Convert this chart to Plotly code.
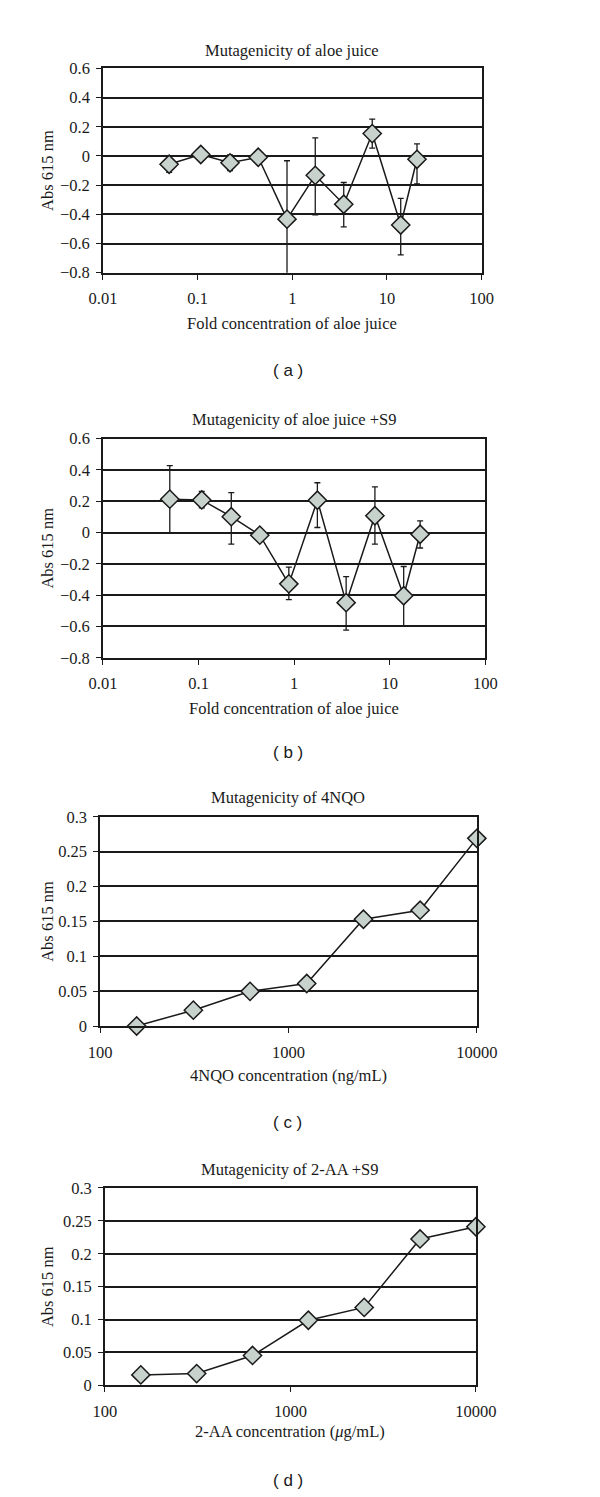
import plotly.graph_objects as go

# ---------------- data ----------------
aloe_conc = [0.05, 0.108, 0.22, 0.437, 0.88, 1.75, 3.5, 7.0, 14.0, 20.8]

a_abs = [-0.057, 0.01, -0.047, -0.009, -0.433, -0.133, -0.331, 0.153, -0.473, -0.023]
a_err_plus = [0.056, 0.02, 0.054, 0.01, 0.40, 0.257, 0.149, 0.099, 0.182, 0.106]
a_err_minus = [0.056, 0.02, 0.054, 0.01, 0.40, 0.271, 0.155, 0.099, 0.205, 0.169]

b_abs = [0.213, 0.208, 0.101, -0.017, -0.328, 0.206, -0.448, 0.107, -0.404, -0.011]
b_err_plus = [0.214, 0.055, 0.154, 0.01, 0.107, 0.112, 0.166, 0.184, 0.187, 0.085]
b_err_minus = [0.217, 0.05, 0.175, 0.01, 0.101, 0.174, 0.175, 0.181, 0.196, 0.088]

nqo_conc = [156.25, 312.5, 625, 1250, 2500, 5000, 10000]
nqo_abs = [0.0, 0.0227, 0.0497, 0.061, 0.153, 0.166, 0.269]

aa_conc = [156.25, 312.5, 625, 1250, 2500, 5000, 10000]
aa_abs = [0.016, 0.018, 0.0455, 0.099, 0.1185, 0.2225, 0.241]

titles = ["Mutagenicity of aloe juice", "Mutagenicity of aloe juice +S9",
          "Mutagenicity of 4NQO", "Mutagenicity of 2-AA +S9"]
x_titles = ["Fold concentration of aloe juice", "Fold concentration of aloe juice",
            "4NQO concentration (ng/mL)", "2-AA concentration (<i>μ</i>g/mL)"]
panel_labels = ["( a )", "( b )", "( c )", "( d )"]
y_title = "Abs 615 nm"

aloe_xticks = [0.01, 0.1, 1, 10, 100]
aloe_xticktext = ["0.01", "0.1", "1", "10", "100"]
conc_xticks = [100, 1000, 10000]
conc_xticktext = ["100", "1000", "10000"]
aloe_yticks = [-0.8, -0.6, -0.4, -0.2, 0, 0.2, 0.4, 0.6]
aloe_yticktext = ["−0.8", "−0.6", "−0.4", "−0.2", "0", "0.2", "0.4", "0.6"]
conc_yticks = [0, 0.05, 0.1, 0.15, 0.2, 0.25, 0.3]
conc_yticktext = ["0", "0.05", "0.1", "0.15", "0.2", "0.25", "0.3"]

# ---------------- layout geometry (pixels) ----------------
W, H = 600, 1497
panels = [
    dict(x0=86, x1=488, top=52, bottom=259, title_y=34, xt_y=310, lab_y=358),
    dict(x0=86, x1=492, top=427, bottom=649, title_y=408, xt_y=700, lab_y=745),
    dict(x0=83, x1=483, top=810, bottom=1022, title_y=791, xt_y=1072, lab_y=1120),
    dict(x0=88, x1=482, top=1186, bottom=1386, title_y=1167, xt_y=1433, lab_y=1482),
]

SERIF = "Liberation Serif, Times New Roman, serif"
SANS = "Liberation Sans, Arial, sans-serif"
INK = "#1a1a1a"
FILL = "#c8d2cd"
FS = 16.5

fig = go.Figure()

marker = dict(symbol="diamond", size=14, color=FILL, line=dict(color=INK, width=1.5))
line = dict(color=INK, width=1.5)


def err(plus, minus):
    return dict(type="data", array=plus, arrayminus=minus, visible=True,
                color=INK, thickness=1.3, width=3)


series = [
    (aloe_conc, a_abs, err(a_err_plus, a_err_minus)),
    (aloe_conc, b_abs, err(b_err_plus, b_err_minus)),
    (nqo_conc, nqo_abs, None),
    (aa_conc, aa_abs, None),
]

annotations = []
for i, (p, (xs, ys, e)) in enumerate(zip(panels, series)):
    n = "" if i == 0 else str(i + 1)
    tr = go.Scatter(x=xs, y=ys, mode="lines+markers", marker=marker, line=line,
                    xaxis="x" + n, yaxis="y" + n, showlegend=False, cliponaxis=False)
    if e is not None:
        tr.error_y = e
        tr.cliponaxis = True
    fig.add_trace(tr)

    aloe = i < 2
    xd = [p["x0"] / W, p["x1"] / W]
    yd = [1 - p["bottom"] / H, 1 - p["top"] / H]
    common_axis = dict(showline=True, linecolor=INK, linewidth=1.6, mirror=True,
                       ticks="outside", ticklen=5, tickwidth=1.4, tickcolor=INK,
                       tickfont=dict(family=SERIF, size=FS, color=INK),
                       zeroline=False, fixedrange=True)
    xa = dict(common_axis, type="log", domain=xd, anchor="y" + n, showgrid=False,
              range=[-2, 2] if aloe else [2, 4],
              tickvals=aloe_xticks if aloe else conc_xticks,
              ticktext=aloe_xticktext if aloe else conc_xticktext,
              tickmode="array", ticklabelstandoff=5)
    ya = dict(common_axis, domain=yd, anchor="x" + n, showgrid=True,
              gridcolor=INK, gridwidth=1.6,
              range=[-0.8, 0.6] if aloe else [0, 0.3],
              tickvals=aloe_yticks if aloe else conc_yticks,
              ticktext=aloe_yticktext if aloe else conc_yticktext,
              tickmode="array", ticklabelstandoff=3)
    fig.update_layout({"xaxis" + n: xa, "yaxis" + n: ya})

    cx = (p["x0"] + p["x1"]) / 2 / W
    annotations += [
        dict(text=titles[i], x=cx, y=1 - p["title_y"] / H, xref="paper", yref="paper",
             showarrow=False, xanchor="center", yanchor="middle",
             font=dict(family=SERIF, size=FS, color=INK)),
        dict(text=x_titles[i], x=cx, y=1 - p["xt_y"] / H, xref="paper", yref="paper",
             showarrow=False, xanchor="center", yanchor="middle",
             font=dict(family=SERIF, size=FS, color=INK)),
        dict(text=y_title, x=27 / W, y=1 - (p["top"] + p["bottom"]) / 2 / H,
             xref="paper", yref="paper", showarrow=False, textangle=-90,
             xanchor="center", yanchor="middle",
             font=dict(family=SERIF, size=FS, color=INK)),
        dict(text=panel_labels[i], x=282 / W, y=1 - p["lab_y"] / H, xref="paper",
             yref="paper", showarrow=False, xanchor="center", yanchor="middle",
             font=dict(family=SANS, size=17, color=INK)),
    ]

fig.update_layout(width=W, height=H, margin=dict(l=0, r=0, t=0, b=0),
                  paper_bgcolor="white", plot_bgcolor="white",
                  annotations=annotations)

fig.write_html("out.html", config={"displayModeBar": False})
